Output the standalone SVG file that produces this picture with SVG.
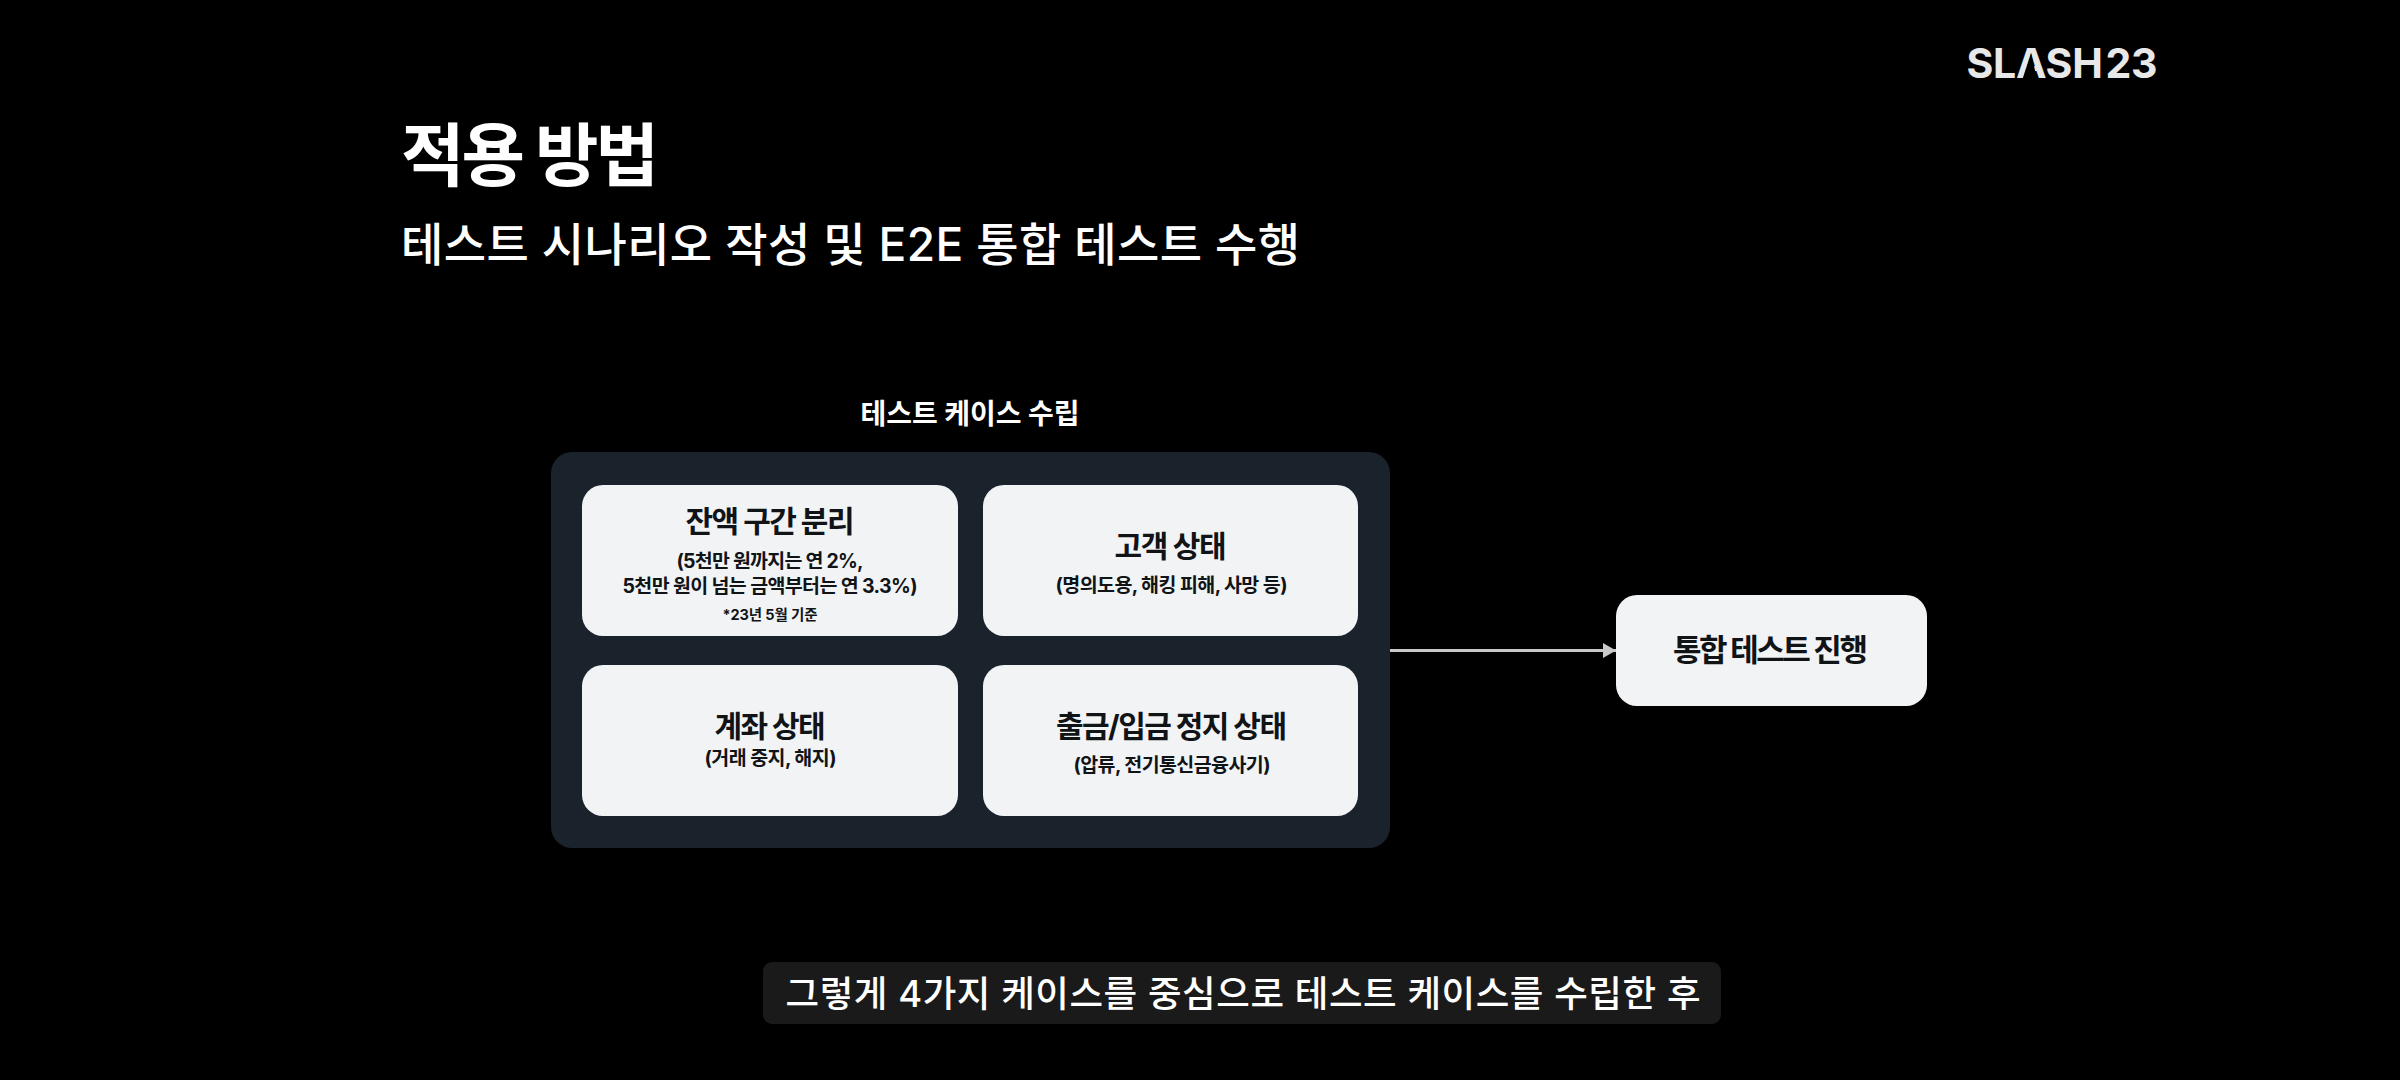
<svg xmlns="http://www.w3.org/2000/svg" width="2400" height="1080" viewBox="0 0 2400 1080">
<style>
text{font-family:"Inter","Noto Sans CJK KR","Noto Sans",sans-serif;text-anchor:middle}
.card{fill:#f1f3f5}
.t{fill:#111417;font-size:30px;font-weight:700}
.s{fill:#111417;font-size:19.500px;font-weight:700}
.n{fill:#111417;font-size:14.500px;font-weight:700}
.w{fill:#fff}
</style>
<defs><marker id="ah" markerUnits="userSpaceOnUse" markerWidth="14" markerHeight="16" refX="13" refY="8" orient="auto"><path d="M0 0.500L13 8L0 15.500Z" fill="#c9c9c9"/></marker></defs>
<rect width="2400" height="1080" fill="#000"/>
<g id="logo"><text x="1966.500" y="78" font-size="41" font-weight="700" letter-spacing="-0.300" word-spacing="-6.500" style="fill:#e8e8e8;text-anchor:start">SLASH 23</text><polygon points="2022.500,79 2031,53 2037,79" fill="#000"/></g>
<g id="heading">
<text class="w" x="530" y="181" font-size="69" font-weight="700" textLength="258">적용 방법</text>
<text class="w" x="850.500" y="261" font-size="46" font-weight="500" textLength="899">테스트 시나리오 작성 및 E2E 통합 테스트 수행</text>
</g>
<g id="panel-label"><text class="w" x="970" y="424" font-size="28" font-weight="700" textLength="219">테스트 케이스 수립</text></g>
<g id="panel"><rect x="551" y="452" width="839" height="396" rx="21" fill="#1a222b"/></g>
<g id="card-balance"><rect class="card" x="582" y="485" width="376" height="151" rx="21"/>
<text class="t" x="770" y="532" textLength="169">잔액 구간 분리</text>
<text class="s" x="770" y="567.500" textLength="187">(5천만 원까지는 연 2%,</text>
<text class="s" x="770" y="592.500" textLength="295">5천만 원이 넘는 금액부터는 연 3.3%)</text>
<text class="n" x="770" y="620" textLength="95">*23년 5월 기준</text></g>
<g id="card-customer"><rect class="card" x="983" y="485" width="375" height="151" rx="21"/>
<text class="t" x="1170.500" y="557" textLength="112">고객 상태</text>
<text class="s" x="1171.500" y="591.500" textLength="232">(명의도용, 해킹 피해, 사망 등)</text></g>
<g id="card-account"><rect class="card" x="582" y="665" width="376" height="151" rx="21"/>
<text class="t" x="770" y="737" textLength="111">계좌 상태</text>
<text class="s" x="770.500" y="764.500" textLength="132">(거래 중지, 해지)</text></g>
<g id="card-stop"><rect class="card" x="983" y="665" width="375" height="151" rx="21"/>
<text class="t" x="1171.500" y="737" textLength="231">출금/입금 정지 상태</text>
<text class="s" x="1172" y="771.500" textLength="197">(압류, 전기통신금융사기)</text></g>
<g id="integration"><rect class="card" x="1616" y="595" width="311" height="111" rx="21"/>
<text class="t" x="1770.500" y="661" style="font-size:31px" textLength="195">통합 테스트 진행</text></g>
<g id="connectors"><line x1="1390" y1="650.500" x2="1616" y2="650.500" stroke="#c9c9c9" stroke-width="3" marker-end="url(#ah)"/></g>
<g id="caption"><rect x="763" y="962" width="958" height="62" rx="9" fill="#1a1a1a"/>
<text class="w" x="1243" y="1007" font-size="36.500" font-weight="500" textLength="915">그렇게 4가지 케이스를 중심으로 테스트 케이스를 수립한 후</text></g>
</svg>
